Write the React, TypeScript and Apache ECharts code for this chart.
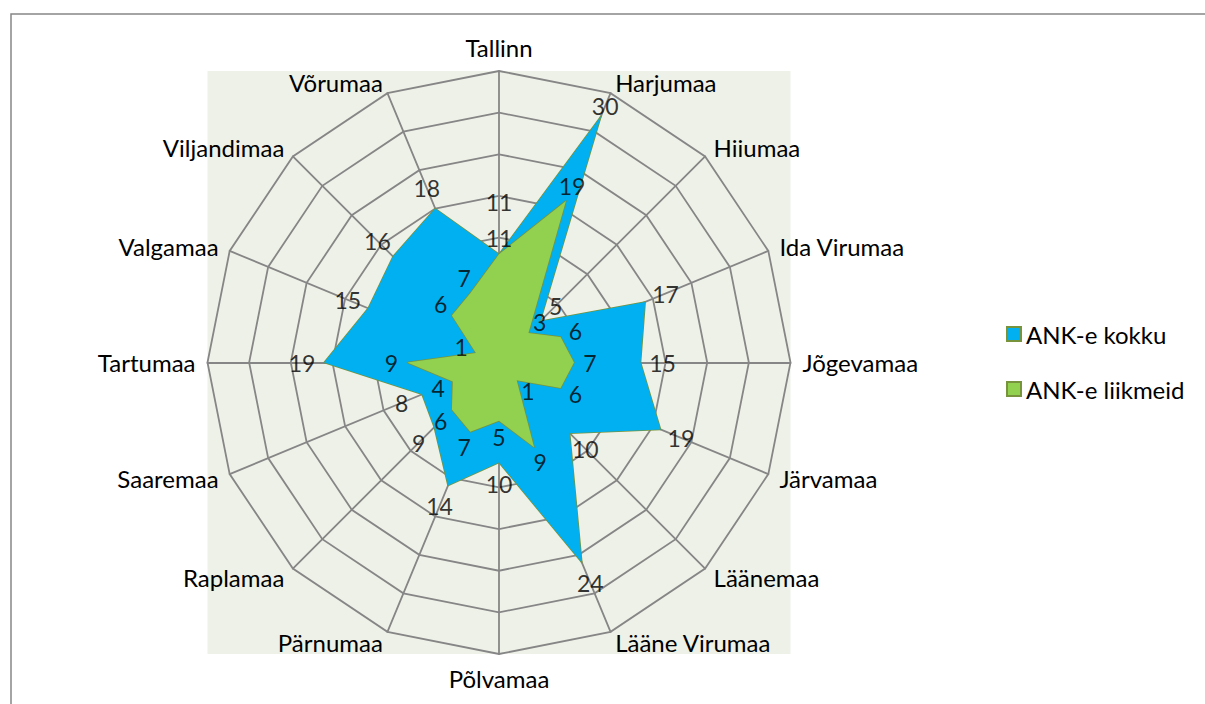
import React, { useEffect, useRef } from "react";
import * as echarts from "echarts";

const categories = [
  "Tallinn", "Harjumaa", "Hiiumaa", "Ida Virumaa", "Jõgevamaa", "Järvamaa",
  "Läänemaa", "Lääne Virumaa", "Põlvamaa", "Pärnumaa", "Raplamaa", "Saaremaa",
  "Tartumaa", "Valgamaa", "Viljandimaa", "Võrumaa",
];
const kokku = [11, 30, 5, 17, 15, 19, 10, 24, 10, 14, 9, 8, 19, 15, 16, 18];
const liikmeid = [11, 19, 3, 6, 7, 6, 1, 9, 5, 7, 6, 4, 9, 1, 6, 7];
const seriesNames = ["ANK-e kokku", "ANK-e liikmeid"];
const axisMin = -2;
const axisMax = 33;
const splitCount = 7;

const CX = 499;
const CY = 362.5;
const R = 291.5;
const FONT = "Lato";
const GRID = "#868686";
const OUTLINE = "#77933C";
const BLUE = "#00B0F0";
const GREEN = "#92D050";

export default function App() {
  const ref = useRef<HTMLDivElement>(null);
  useEffect(() => {
    if (!ref.current) return;
    const chart = echarts.init(ref.current, null, { renderer: "svg" });
    const n = categories.length;
    // ECharts radar runs counter-clockwise; reorder so it reads clockwise.
    const order = [0, ...Array.from({ length: n - 1 }, (_, k) => n - 1 - k)];
    const toR = (v: number) => ((v - axisMin) / (axisMax - axisMin)) * R;
    const labelData = (vals: number[], s: number) =>
      vals.map((v, i) => {
        const th = (i * 2 * Math.PI) / n;
        const same = s === 0 && kokku[i] === liikmeid[i];
        let d = same ? 52 : s === 0 ? 22 : 16;
        d = Math.min(d, R - 14 - toR(v));
        return {
          value: [v, categories[i]],
          label: { offset: [d * Math.sin(th), -d * Math.cos(th)] },
        };
      });
    const labelSeries = (vals: number[], s: number) => ({
      type: "scatter",
      name: "lbl" + s,
      coordinateSystem: "polar",
      symbolSize: 1,
      silent: true,
      z: 10,
      itemStyle: { color: "rgba(0,0,0,0)" },
      label: {
        show: true,
        position: [0.5, 0.5],
        align: "center",
        verticalAlign: "middle",
        color: "#000",
        textBorderWidth: 0,
        fontSize: 23,
        fontFamily: FONT,
        formatter: (p: any) => String(p.value[0]),
      },
      data: labelData(vals, s),
    });
    chart.setOption({
      animation: false,
      backgroundColor: "#fff",
      graphic: [
        {
          type: "rect",
          z: -10,
          shape: { x: 11, y: 14, width: 1400, height: 1000 },
          style: { fill: "#fff", stroke: "#878787", lineWidth: 1.5 },
        },
        {
          type: "rect",
          z: -9,
          shape: { x: CX - R, y: CY - R, width: 2 * R, height: 2 * R },
          style: { fill: "#EEF1E8" },
        },
      ],
      legend: {
        orient: "vertical",
        left: 1001,
        top: 317,
        itemWidth: 14,
        itemHeight: 14,
        itemGap: 31,
        icon: "rect",
        textStyle: { color: "#000", fontSize: 24, fontFamily: FONT },
        data: [
          { name: seriesNames[0], itemStyle: { borderColor: OUTLINE, borderWidth: 2 } },
          { name: seriesNames[1], itemStyle: { borderColor: OUTLINE, borderWidth: 2 } },
        ],
      },
      radar: {
        center: [CX, CY],
        radius: R,
        startAngle: 90,
        splitNumber: splitCount,
        shape: "polygon",
        nameGap: 12,
        axisName: { color: "#000", fontSize: 24, fontFamily: FONT },
        splitLine: { lineStyle: { color: GRID, width: 1.8 } },
        splitArea: { show: false },
        axisLine: { lineStyle: { color: GRID, width: 1.8 } },
        axisTick: { show: false },
        axisLabel: { show: false },
        indicator: order.map((i) => ({ name: categories[i], min: axisMin, max: axisMax })),
      },
      polar: { center: [CX, CY], radius: R },
      angleAxis: {
        type: "category",
        data: categories,
        boundaryGap: false,
        startAngle: 90,
        clockwise: true,
        show: false,
      },
      radiusAxis: { type: "value", min: axisMin, max: axisMax, show: false },
      series: [
        {
          type: "radar",
          symbol: "none",
          data: [
            {
              name: seriesNames[0],
              value: order.map((i) => kokku[i]),
              itemStyle: { color: BLUE },
              areaStyle: { color: BLUE, opacity: 1 },
              lineStyle: { color: OUTLINE, width: 1.5 },
            },
            {
              name: seriesNames[1],
              value: order.map((i) => liikmeid[i]),
              itemStyle: { color: GREEN },
              areaStyle: { color: GREEN, opacity: 1 },
              lineStyle: { color: OUTLINE, width: 1.5 },
            },
          ],
        },
        labelSeries(kokku, 0),
        labelSeries(liikmeid, 1),
      ],
    });
    return () => chart.dispose();
  }, []);
  return (
    <div
      ref={ref}
      style={{ position: "absolute", left: 0, top: 0, width: 1205, height: 704 }}
    />
  );
}
